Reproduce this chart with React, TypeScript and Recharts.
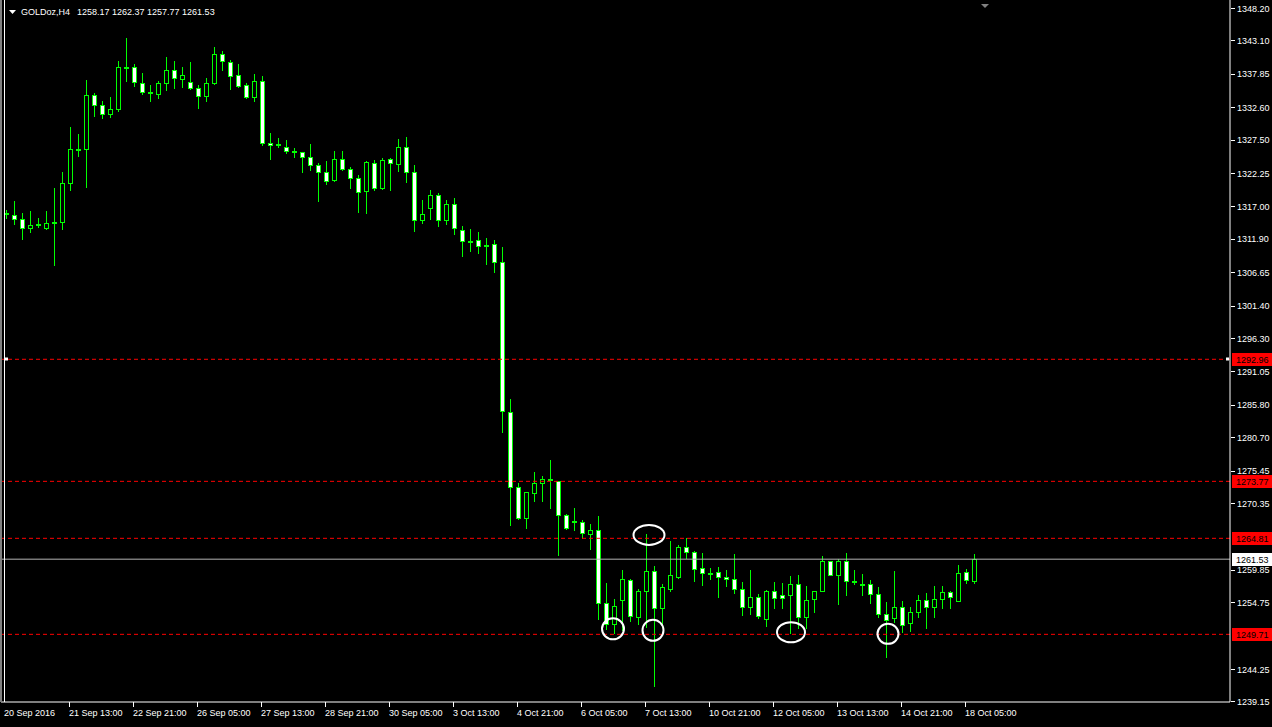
import React from "react";
import { ComposedChart, Bar, XAxis, YAxis, ReferenceLine, ReferenceDot } from "recharts";

const SYMBOL = "GOLDoz,H4";

const opens = [
  1315.9, 1315.7, 1315.0, 1313.6, 1314.2, 1313.6, 1314.5, 1314.5, 1320.65, 1326.1,
  1326.05, 1334.5, 1332.95, 1331.5, 1332.25, 1338.9, 1338.9, 1336.4, 1334.9, 1334.75,
  1336.4, 1338.4, 1337.1, 1336.55, 1335.6, 1334.35, 1336.4, 1340.95, 1339.65, 1337.65,
  1336.05, 1334.2, 1336.7, 1326.95, 1326.7, 1326.35, 1325.6, 1325.55, 1324.75, 1323.5,
  1322.4, 1321.1, 1324.45, 1322.9, 1321.45, 1319.4, 1323.85, 1319.85, 1324.45, 1323.6,
  1326.35, 1322.4, 1314.85, 1316.7, 1318.8, 1314.85, 1317.4, 1313.3, 1311.6, 1311.75,
  1310.85, 1311.1, 1308.3, 1284.75, 1272.85, 1268.05, 1271.9, 1273.5, 1274.1, 1273.9,
  1268.55, 1267.45, 1267.45, 1265.55, 1266.05, 1254.65, 1251.3, 1255.05, 1258.3, 1252.45,
  1256.5, 1259.65, 1253.85, 1256.85, 1258.8, 1263.4, 1262.65, 1260.2, 1259.35, 1259.5,
  1258.8, 1258.4, 1256.85, 1254.0, 1255.55, 1252.1, 1256.5, 1255.9, 1255.9, 1257.6,
  1252.4, 1255.2, 1256.5, 1261.2, 1259.0, 1261.2, 1258.05, 1257.65, 1257.6, 1256.05,
  1252.9, 1252.3, 1254.0, 1251.55, 1253.15, 1255.1, 1253.95, 1255.25, 1256.35, 1254.95,
  1259.5, 1258.17,
];
const highs = [
  1316.5, 1317.9, 1316.0, 1316.35, 1315.1, 1316.35, 1319.95, 1322.4, 1329.55, 1328.45,
  1336.9, 1334.9, 1333.65, 1334.25, 1339.9, 1343.5, 1339.4, 1338.0, 1336.1, 1336.75,
  1340.5, 1339.9, 1338.95, 1339.75, 1336.05, 1337.15, 1342.1, 1341.45, 1340.05, 1339.4,
  1336.45, 1337.85, 1337.55, 1328.6, 1327.8, 1327.5, 1326.15, 1325.6, 1326.85, 1323.85,
  1324.2, 1325.75, 1325.75, 1323.25, 1322.0, 1324.15, 1324.3, 1324.6, 1324.65, 1327.65,
  1327.95, 1323.5, 1318.05, 1319.65, 1319.15, 1318.05, 1318.25, 1313.85, 1313.5, 1313.05,
  1312.1, 1311.65, 1310.55, 1286.7, 1273.45, 1272.1, 1275.2, 1274.65, 1277.1, 1273.9,
  1268.6, 1269.55, 1267.75, 1267.0, 1268.3, 1257.8, 1255.3, 1259.85, 1258.45, 1256.9,
  1265.5, 1260.45, 1257.65, 1264.35, 1263.8, 1264.85, 1262.85, 1262.55, 1260.2, 1260.35,
  1259.8, 1262.35, 1258.0, 1259.85, 1256.05, 1256.75, 1257.9, 1257.8, 1258.85, 1259.05,
  1257.3, 1256.6, 1262.05, 1261.3, 1261.6, 1262.55, 1259.85, 1259.25, 1258.2, 1257.15,
  1254.8, 1259.7, 1254.95, 1253.95, 1255.95, 1256.2, 1257.3, 1257.3, 1256.55, 1260.55,
  1260.0, 1262.37,
];
const lows = [
  1315.2, 1314.3, 1311.8, 1313.05, 1313.7, 1313.5, 1307.75, 1313.5, 1319.65, 1324.85,
  1320.0, 1331.15, 1330.9, 1331.0, 1331.95, 1336.65, 1336.0, 1334.75, 1333.65, 1334.1,
  1335.35, 1335.55, 1335.85, 1335.4, 1332.55, 1333.65, 1336.3, 1338.45, 1335.5, 1335.8,
  1334.1, 1333.5, 1326.6, 1324.5, 1326.4, 1325.35, 1324.8, 1322.35, 1322.8, 1317.8,
  1320.5, 1321.05, 1322.8, 1319.95, 1316.05, 1315.9, 1319.55, 1319.8, 1319.55, 1322.6,
  1320.9, 1313.1, 1314.35, 1314.95, 1313.85, 1314.2, 1312.6, 1309.2, 1310.05, 1309.75,
  1307.9, 1306.65, 1281.55, 1266.9, 1267.85, 1266.5, 1270.75, 1270.6, 1269.55, 1262.25,
  1266.25, 1266.05, 1264.85, 1263.15, 1252.2, 1250.6, 1249.95, 1250.35, 1251.8, 1251.4,
  1250.85, 1241.6, 1250.85, 1256.45, 1258.55, 1261.7, 1258.05, 1257.4, 1258.45, 1255.65,
  1257.25, 1256.15, 1252.7, 1252.9, 1252.3, 1251.0, 1253.85, 1253.85, 1249.95, 1250.75,
  1250.75, 1253.2, 1256.45, 1259.0, 1254.5, 1255.85, 1257.55, 1255.85, 1254.65, 1252.45,
  1246.15, 1251.65, 1250.1, 1250.3, 1252.45, 1250.7, 1252.4, 1253.9, 1253.9, 1254.9,
  1257.8, 1257.77,
];
const closes = [
  1315.8, 1315.0, 1313.6, 1314.1, 1314.25, 1314.4, 1314.55, 1320.7, 1326.1, 1326.05,
  1334.5, 1332.95, 1331.5, 1332.3, 1338.9, 1338.95, 1336.55, 1334.95, 1334.95, 1336.4,
  1338.4, 1337.15, 1337.65, 1335.55, 1334.35, 1336.4, 1340.95, 1339.85, 1337.5, 1336.0,
  1334.2, 1336.7, 1326.9, 1326.6, 1326.75, 1325.65, 1325.65, 1324.75, 1323.5, 1322.4,
  1321.0, 1324.45, 1322.9, 1321.45, 1319.25, 1323.95, 1319.85, 1324.3, 1323.85, 1326.35,
  1322.4, 1314.9, 1315.8, 1318.8, 1314.9, 1317.4, 1313.6, 1311.55, 1311.55, 1310.8,
  1310.9, 1308.25, 1284.85, 1272.85, 1268.05, 1272.05, 1273.5, 1274.15, 1274.15, 1268.55,
  1266.4, 1267.5, 1265.6, 1266.1, 1254.65, 1251.4, 1254.15, 1258.4, 1252.6, 1256.5,
  1259.65, 1253.85, 1257.1, 1259.0, 1263.4, 1262.65, 1259.95, 1259.35, 1259.3, 1258.8,
  1258.4, 1256.85, 1254.0, 1255.55, 1252.55, 1256.5, 1255.4, 1255.4, 1257.6, 1252.4,
  1255.15, 1256.55, 1261.2, 1259.05, 1261.2, 1258.1, 1258.0, 1257.7, 1256.05, 1252.9,
  1251.95, 1254.0, 1251.2, 1253.15, 1255.1, 1254.0, 1255.25, 1256.35, 1255.55, 1259.35,
  1258.2, 1261.53,
];

const xTickBars = [0, 8, 16, 24, 32, 40, 48, 56, 64, 72, 80, 88, 96, 104, 112, 120];
const xTickLabels = [
  "20 Sep 2016", "21 Sep 13:00", "22 Sep 21:00", "26 Sep 05:00", "27 Sep 13:00",
  "28 Sep 21:00", "30 Sep 05:00", "3 Oct 13:00", "4 Oct 21:00", "6 Oct 05:00",
  "7 Oct 13:00", "10 Oct 21:00", "12 Oct 05:00", "13 Oct 13:00", "14 Oct 21:00",
  "18 Oct 05:00",
];
const yTicks = [
  1348.2, 1343.1, 1337.85, 1332.6, 1327.5, 1322.25, 1317.0, 1311.9, 1306.65, 1301.4,
  1296.3, 1291.05, 1285.8, 1280.7, 1275.45, 1270.35, 1259.85, 1254.75, 1244.25, 1239.15,
];
const levelPrices = [1292.96, 1273.77, 1264.81, 1249.71];
const bidPrice = 1261.53;
const markBars = [76, 80, 81, 98, 110];
const markPrices = [1250.57, 1265.35, 1250.35, 1250.04, 1249.79];

const Y_DOMAIN: [number, number] = [1239.071, 1349.458];
const GREEN = "#00ff00";
const FONT = "'Liberation Sans', Arial, sans-serif";
const ringStyle = [
  { dx: 0, rx: 11, ry: 10.5 },
  { dx: 4, rx: 15.5, ry: 10 },
  { dx: 0, rx: 10.5, ry: 10.5 },
  { dx: 2, rx: 14, ry: 10 },
  { dx: 3, rx: 10.5, ry: 10 },
];

function Candle(props: any) {
  const { x, y, width, height, payload } = props;
  if (!payload) return null;
  const { o, h, l, c } = payload;
  const top = height >= 0 ? y : y + height;
  const span = Math.abs(height);
  const k = h > l ? span / (h - l) : 0;
  const py = (v: number) => top + (h - v) * k;
  const cx = Math.round(x + width / 2) + 0.5;
  const yHi = Math.round(top);
  const yLo = Math.round(top + span) + 1;
  const bTop = Math.round(py(Math.max(o, c))) + 0.5;
  const bBot = Math.round(py(Math.min(o, c))) + 0.5;
  const bear = c < o;
  return (
    <g shapeRendering="crispEdges">
      <line x1={cx} x2={cx} y1={yHi} y2={yLo} stroke={GREEN} strokeWidth={1} />
      <rect
        x={cx - 2}
        y={bTop}
        width={4}
        height={Math.max(bBot - bTop, 1)}
        fill={bear ? "#ffffff" : "#000000"}
        stroke={GREEN}
        strokeWidth={1}
      />
    </g>
  );
}

function XTick(props: any) {
  const { x, y, payload } = props;
  const idx = xTickBars.indexOf(payload.value);
  if (idx < 0) return null;
  const first = idx === 0;
  const px = Math.round(x);
  const tx = first ? 4 : px;
  return (
    <g>
      {!first && <line x1={px + 0.5} x2={px + 0.5} y1={y} y2={y + 5} stroke="#fff" />}
      <text x={tx} y={y + 14} fill="#fff" fontSize={9} fontFamily={FONT} textAnchor="start">
        {xTickLabels[idx]}
      </text>
    </g>
  );
}

function YTick(props: any) {
  const { x, y, payload } = props;
  const yy = Math.round(y) + 0.5;
  return (
    <g>
      <line x1={x + 1} x2={x + 5} y1={yy} y2={yy} stroke="#fff" />
      <text x={x + 7} y={y + 3.5} fill="#fff" fontSize={9} fontFamily={FONT} textAnchor="start">
        {payload.value.toFixed(2)}
      </text>
    </g>
  );
}

function PriceTag(props: any) {
  const { viewBox, text, bg, fg, selected } = props;
  if (!viewBox) return null;
  const y = Math.round(viewBox.y);
  const xr = viewBox.x + viewBox.width;
  return (
    <g>
      <rect x={xr + 2} y={y - 6} width={42} height={13} fill={bg} />
      <text x={xr + 6} y={y + 3.5} fill={fg} fontSize={9} fontFamily={FONT} textAnchor="start">
        {text}
      </text>
      {selected && <rect x={viewBox.x + 4} y={y - 1.5} width={3} height={3} fill="#fff" />}
      {selected && <rect x={xr - 4} y={y - 1.5} width={3} height={3} fill="#fff" />}
    </g>
  );
}

export default function App() {
  const data = opens.map((o, i) => ({
    i,
    o,
    h: highs[i],
    l: lows[i],
    c: closes[i],
    range: [lows[i], highs[i]],
  }));
  const last = data.length - 1;
  const header = [opens[last], highs[last], lows[last], closes[last]].map((v) => v.toFixed(2)).join(" ");

  return (
    <div
      style={{
        position: "absolute",
        left: 0,
        top: 0,
        width: 1272,
        height: 727,
        background: "#000",
        overflow: "hidden",
        fontFamily: FONT,
      }}
    >
      <ComposedChart
        width={1272}
        height={727}
        data={data}
        margin={{ top: 0, right: 0, bottom: 0, left: 1 }}
        barCategoryGap={0}
      >
        <XAxis
          dataKey="i"
          type="category"
          ticks={xTickBars}
          interval={0}
          padding={{ left: 0, right: 253 }}
          height={25}
          axisLine={{ stroke: "#ffffff" }}
          tickLine={false}
          tickSize={0}
          tickMargin={0}
          tick={<XTick />}
        />
        <YAxis
          orientation="right"
          type="number"
          domain={Y_DOMAIN}
          allowDataOverflow
          ticks={yTicks}
          interval={0}
          width={42}
          axisLine={{ stroke: "#ffffff" }}
          tickLine={false}
          tickSize={0}
          tickMargin={0}
          tick={<YTick />}
        />
        <ReferenceLine
          y={bidPrice}
          stroke="#b4b4b4"
          strokeWidth={1}
          label={<PriceTag text={bidPrice.toFixed(2)} bg="#ffffff" fg="#000000" />}
        />
        {levelPrices.map((p, k) => (
          <ReferenceLine
            key={"lvl" + k}
            y={p}
            stroke="#ff0000"
            strokeWidth={1}
            strokeDasharray="4 3"
            label={<PriceTag text={p.toFixed(2)} bg="#ff0000" fg="#000000" selected={k === 0} />}
          />
        ))}
        <Bar dataKey="range" barSize={5} isAnimationActive={false} shape={(p: any) => <Candle {...p} />} />
        {markBars.map((b, k) => (
          <ReferenceDot
            key={"mk" + k}
            x={b}
            y={markPrices[k]}
            r={10}
            shape={(p: any) => (
              <ellipse
                cx={p.cx + ringStyle[k].dx}
                cy={p.cy}
                rx={ringStyle[k].rx}
                ry={ringStyle[k].ry}
                fill="none"
                stroke="#ffffff"
                strokeWidth={2}
              />
            )}
          />
        ))}
      </ComposedChart>
      <svg
        width={1272}
        height={727}
        style={{ position: "absolute", left: 0, top: 0, pointerEvents: "none" }}
      >
        <rect x={0} y={0} width={2} height={702} fill="#808080" />
        <line x1={4.5} x2={4.5} y1={0} y2={702} stroke="#ffffff" />
        <polygon points="9,10 16,10 12.5,14" fill="#ffffff" />
        <text x={21} y={15} fill="#ffffff" fontSize={9} fontFamily={FONT}>
          {SYMBOL}
        </text>
        <text x={77} y={15} fill="#ffffff" fontSize={9} fontFamily={FONT}>
          {header}
        </text>
        <polygon points="981,4 989,4 985,8" fill="#808080" />
      </svg>
    </div>
  );
}
